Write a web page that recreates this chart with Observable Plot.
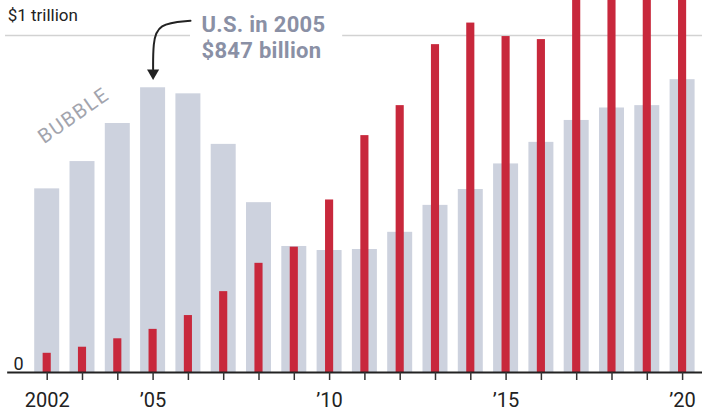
<!DOCTYPE html>
<html><head><meta charset="utf-8">
<script src="https://cdn.jsdelivr.net/npm/d3@7"></script>
<script src="https://cdn.jsdelivr.net/npm/@observablehq/plot@0.6"></script>
<style>body{margin:0;background:#fff;} svg{display:block}</style>
</head><body><div id="chart"></div>
<script>
// Values in billions of dollars
const years = [2002,2003,2004,2005,2006,2007,2008,2009,2010,2011,2012,2013,2014,2015,2016,2017,2018,2019,2020];
const usValues = [545,626,739,845,827,677,504,374,362,365,416,496,543,619,683,748,785,792,869];
const chinaValues = [57,75,100,128,169,240,324,372,512,703,792,973,1037,997,988,1200,1260,1330,1420];
const tickLabels = {2002: "2002", 2005: "’05", 2010: "’10", 2015: "’15", 2020: "’20"};
const yLabels = [{v: 0, t: "0"}, {v: 1000, t: "$1 trillion"}];
const annotation = "U.S. in 2005\n$847 billion";
const bubbleLabel = "BUBBLE";

const data = years.map((y, i) => ({year: y, us: usValues[i], china: chinaValues[i]}));
const xMin = 2000.677, xMax = 2020.564;
const grayHalf = 0.354, redHalf = 0.115;

const chart = Plot.plot({
  width: 702, height: 416,
  marginTop: 0, marginBottom: 44, marginLeft: 0, marginRight: 0,
  style: {fontFamily: "Roboto, sans-serif", background: "#fff", overflow: "hidden"},
  x: {domain: [xMin, xMax], axis: null},
  y: {domain: [0, 1104], axis: null},
  marks: [
    Plot.ruleY([1000], {x1: 2000.82, x2: 2006.06, stroke: "#d2d2d2", strokeWidth: 1.5}),
    Plot.ruleY([1000], {x1: 2010.37, x2: xMax, stroke: "#d2d2d2", strokeWidth: 1.5}),
    Plot.rectY(data, {x1: d => d.year - grayHalf, x2: d => d.year + grayHalf, y: "us", fill: "#cdd2de", clip: true}),
    Plot.rectY(data, {x1: d => d.year - redHalf, x2: d => d.year + redHalf, y: "china", fill: "#c8283c", clip: true}),
    Plot.ruleY([0], {x1: 2000.88, x2: xMax, stroke: "#222", strokeWidth: 2}),
    Plot.axisX({ticks: years, tickFormat: d => tickLabels[d] ?? "", tickSize: 8, tickPadding: 12, fontSize: 20, stroke: "#333", fill: "#222", strokeWidth: 1.5, label: null}),
    Plot.text([yLabels[0]], {x: 2001.33, y: 25, text: "t", textAnchor: "end", lineAnchor: "middle", fontSize: 18, fill: "#222"}),
    Plot.text([yLabels[1]], {x: 2000.88, y: 1058, text: "t", textAnchor: "start", lineAnchor: "middle", fontSize: 17, fill: "#222"}),
    Plot.text([annotation], {x: 2006.37, y: 1066, text: d => d, textAnchor: "start", lineAnchor: "top", fontSize: 22, fontWeight: "bold", lineHeight: 1.18, fill: "#8a90a5"}),
    Plot.line([[2006.06, 1044], [2005.12, 1036], [2005.0, 975], [2005.0, 900]], {x: d => d[0], y: d => d[1], curve: "basis", stroke: "#222", strokeWidth: 2}),
    Plot.dot([[2005.0, 889]], {x: d => d[0], y: d => d[1], symbol: "triangle", rotate: 180, r: 4.5, fill: "#222", stroke: "none"}),
    Plot.text([bubbleLabel], {x: 2002.75, y: 762, text: d => d, rotate: -35, textAnchor: "middle", lineAnchor: "middle", fontSize: 20, fill: "#a2a4ad"})
  ]
});
d3.select(chart).selectAll("text").filter(function() { return this.textContent === "BUBBLE"; }).attr("letter-spacing", 1.5);
d3.select(chart).selectAll("tspan, text").filter(function() { return this.textContent === "U.S. in 2005" || this.textContent === "$847 billion"; }).attr("letter-spacing", 0.3);
document.getElementById("chart").appendChild(chart);
</script>
</body></html>
